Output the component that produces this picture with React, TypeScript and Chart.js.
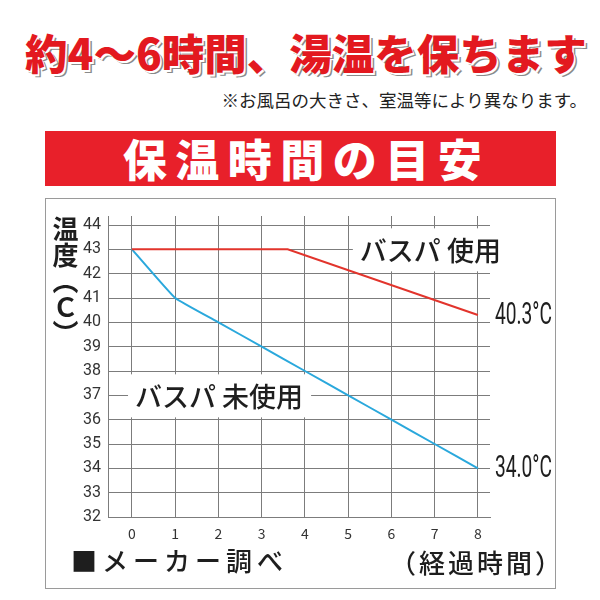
import React, { useEffect, useRef } from 'react';
import { Chart, registerables } from 'chart.js';

Chart.register(...registerables);

// ---- data ----
const hourTicks = [0, 1, 2, 3, 4, 5, 6, 7, 8];
const tempTicks = [32, 33, 34, 35, 36, 37, 38, 39, 40, 41, 42, 43, 44];
const withBathpaTimes = [0, 3.6, 8];
const withBathpaTemps = [43, 43, 40.3];
const withoutBathpaTimes = [0, 1, 2, 3, 4, 5, 6, 7, 8];
const withoutBathpaTemps = [43, 41, 40, 39, 38, 37, 36, 35, 34];
const seriesNames = ['バスパ 使用', 'バスパ 未使用'];
const seriesColors = ['#E2342C', '#2AA8DC'];
const nameAnchorTimes = [5.27, 0.07];
const nameAnchorTemps = [43, 37];

const titleText = '約4～6時間、湯温を保ちます';
const noteText = '※お風呂の大きさ、室温等により異なります。';
const bannerText = '保温時間の目安';
const yTitleText = '温度（Ｃ）';
const sourceText = '■メーカー調べ';
const xTitleText = '（経過時間）';

const GRID = '#7c7c7c';

const labelPlugin = {
  id: 'seriesLabels',
  beforeDatasetsDraw(chart: any) {
    const { ctx, scales } = chart;
    const x = scales.x;
    const y = scales.y;
    ctx.save();
    ctx.font = "500 27px 'Noto Sans CJK JP'";
    ctx.textBaseline = 'middle';
    ctx.textAlign = 'left';
    seriesNames.forEach((name, i) => {
      const px = x.getPixelForValue(nameAnchorTimes[i]);
      const py = y.getPixelForValue(nameAnchorTemps[i]);
      const w = ctx.measureText(name).width;
      ctx.fillStyle = '#ffffff';
      ctx.fillRect(px - 7, py - 21, w + 15, 43);
      ctx.fillStyle = '#1e1e1e';
      ctx.fillText(name, px, py + 1);
    });
    ctx.restore();
  },
  afterDatasetsDraw(chart: any) {
    const { ctx, scales } = chart;
    const x = scales.x;
    const y = scales.y;
    chart.data.datasets.forEach((ds: any) => {
      const last = ds.data[ds.data.length - 1];
      const px = x.getPixelForValue(last.x) + 17;
      const py = y.getPixelForValue(last.y);
      ctx.save();
      ctx.translate(px, py);
      ctx.scale(0.6, 1);
      ctx.font = '32px Roboto';
      ctx.textBaseline = 'middle';
      ctx.textAlign = 'left';
      ctx.fillStyle = '#1e1e1e';
      ctx.fillText(last.y.toFixed(1) + '°C', 0, 1);
      ctx.restore();
    });
  },
};

export default function App() {
  const canvasRef = useRef<HTMLCanvasElement | null>(null);

  useEffect(() => {
    if (!canvasRef.current) return;
    const chart = new Chart(canvasRef.current, {
      type: 'line',
      data: {
        datasets: [
          {
            label: seriesNames[0],
            data: withBathpaTimes.map((t, i) => ({ x: t, y: withBathpaTemps[i] })),
            borderColor: seriesColors[0],
            borderWidth: 2,
            pointRadius: 0,
            tension: 0,
          },
          {
            label: seriesNames[1],
            data: withoutBathpaTimes.map((t, i) => ({ x: t, y: withoutBathpaTemps[i] })),
            borderColor: seriesColors[1],
            borderWidth: 2,
            pointRadius: 0,
            tension: 0.1,
          },
        ],
      },
      options: {
        responsive: false,
        animation: false,
        layout: { padding: { left: 78, right: 110, top: 216, bottom: 57 } },
        plugins: { legend: { display: false }, tooltip: { enabled: false } },
        scales: {
          x: {
            type: 'linear',
            min: -0.555,
            max: 8.28,
            afterBuildTicks: (s: any) => {
              s.ticks = hourTicks.map((v) => ({ value: v }));
            },
            afterFit: (s: any) => {
              s.height = 26;
            },
            ticks: {
              font: { family: "'Noto Sans CJK JP'", size: 14 },
              color: '#333',
              padding: 8,
              autoSkip: false,
              maxRotation: 0,
            },
            grid: { color: GRID, drawTicks: false, lineWidth: 1 },
            border: { color: GRID },
          },
          y: {
            type: 'linear',
            min: 32,
            max: 44.37,
            afterBuildTicks: (s: any) => {
              s.ticks = tempTicks.map((v) => ({ value: v }));
            },
            afterFit: (s: any) => {
              s.width = 30;
            },
            ticks: {
              font: { family: 'Roboto', size: 16 },
              color: '#333',
              padding: 7,
              autoSkip: false,
            },
            grid: { color: GRID, drawTicks: false, lineWidth: 1 },
            border: { color: GRID },
          },
        },
      },
      plugins: [labelPlugin],
    } as any);
    if ((document as any).fonts && (document as any).fonts.ready) {
      (document as any).fonts.ready.then(() => {
        try { chart.update(); } catch (e) {}
      });
    }
    return () => chart.destroy();
  }, []);

  const abs = (s: React.CSSProperties): React.CSSProperties => ({ position: 'absolute', margin: 0, ...s });

  return (
    <div style={{ position: 'fixed', left: 0, top: 0, width: 600, height: 600, background: '#fff', overflow: 'hidden', fontFamily: "'Noto Sans CJK JP', sans-serif" }}>
      <div
        style={abs({
          left: 6, top: 31, width: 600, textAlign: 'center', fontSize: 42.5, lineHeight: 1, fontWeight: 900,
          color: '#E3191F', whiteSpace: 'nowrap',
          textShadow: '1.5px 1.5px 0 #fff, 3px 3px 0 #8a8a8a',
        })}
      >
        {titleText}
      </div>
      <div style={abs({ right: 13, top: 91, fontSize: 17.5, lineHeight: 1, color: '#222', whiteSpace: 'nowrap', letterSpacing: 0 })}>
        {noteText}
      </div>
      <div
        style={abs({
          left: 45, top: 131, width: 511, height: 55, background: '#E8202A', color: '#fff',
          fontSize: 44, fontWeight: 900, lineHeight: '55px', textAlign: 'center', letterSpacing: 8.5,
          paddingLeft: 12, boxSizing: 'border-box', whiteSpace: 'nowrap',
        })}
      >
        {bannerText}
      </div>
      <div style={abs({ left: 45, top: 198, width: 511, height: 391, border: '1px solid #9a9a9a', boxSizing: 'border-box' })} />
      <canvas ref={canvasRef} width={600} height={600} style={abs({ left: 0, top: 0, width: 600, height: 600 })} />
      <div
        style={abs({
          left: 52, top: 216, fontSize: 26, lineHeight: 1, fontWeight: 700, color: '#1e1e1e',
          writingMode: 'vertical-rl', whiteSpace: 'nowrap',
        })}
      >
        {yTitleText}
      </div>
      <div style={abs({ left: 71, top: 547, fontSize: 26, lineHeight: 1, fontWeight: 500, color: '#1e1e1e', letterSpacing: 5, whiteSpace: 'nowrap' })}>
        {sourceText}
      </div>
      <div style={abs({ left: 390, top: 549, fontSize: 26, lineHeight: 1, fontWeight: 500, color: '#1e1e1e', letterSpacing: 3, whiteSpace: 'nowrap' })}>
        {xTitleText}
      </div>
    </div>
  );
}
